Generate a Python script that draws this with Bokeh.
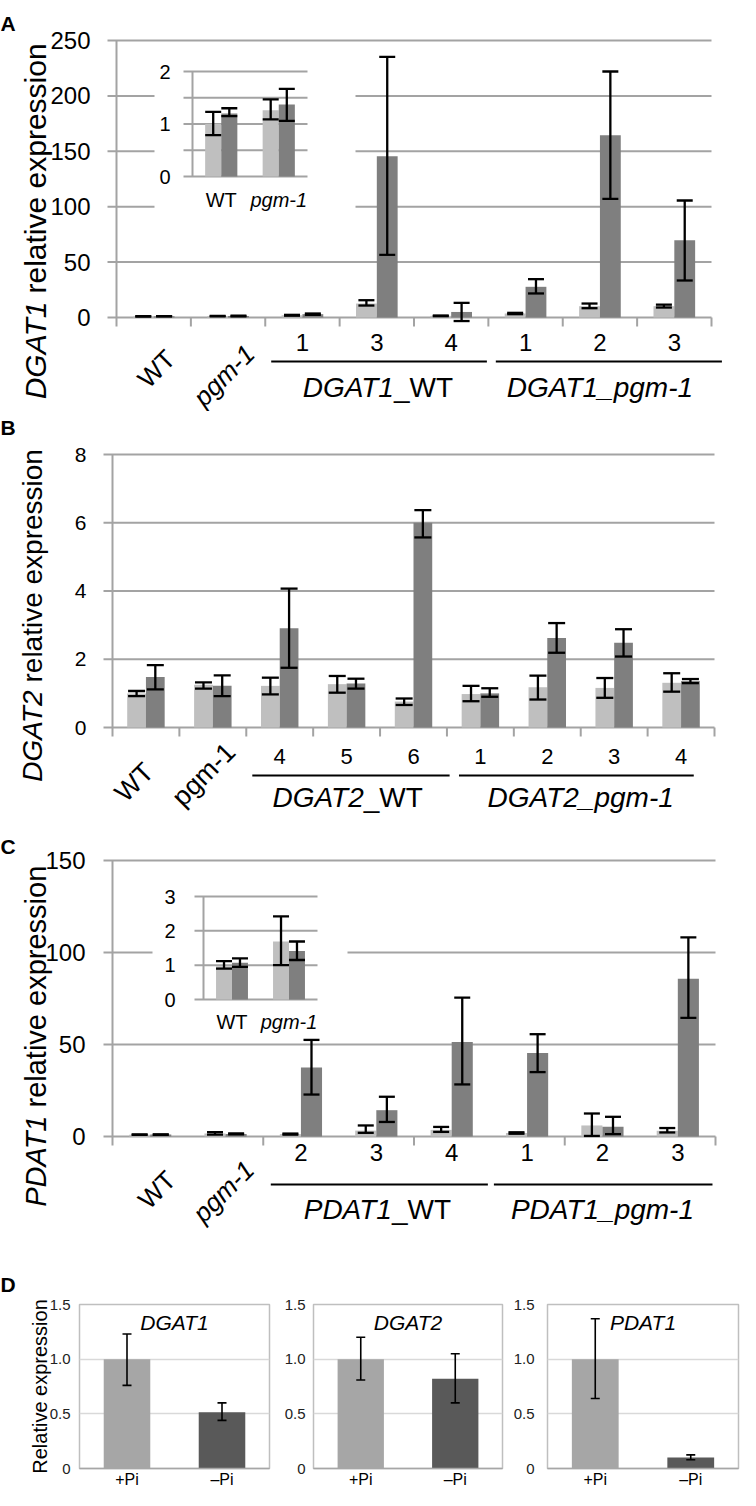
from bokeh.plotting import figure
from bokeh.models import Range1d, FixedTicker, Label, BoxAnnotation
from bokeh.layouts import column, row
from bokeh.embed import file_html
from bokeh.resources import INLINE
from bokeh.core.properties import value

FONT = "Liberation Sans"
LIGHT = "#bfbfbf"
DARK = "#7f7f7f"
GRID = "#a3a3a3"
D_PLUS = "#a6a6a6"
D_MINUS = "#595959"

# ---------------- data ----------------
# Panel A (DGAT1)
a_cats = ["WT", "pgm-1", "1", "3", "4", "1", "2", "3"]
a_light = [1.0, 1.26, 2.0, 12.6, 1.5, 3.6, 10.2, 10.2]
a_light_lo = [0.79, 1.09, 1.6, 10.8, 1.2, 3.0, 8.4, 9.0]
a_light_hi = [1.23, 1.47, 2.4, 15.6, 1.8, 4.2, 12.6, 11.6]
a_dark = [1.2, 1.37, 3.0, 145.6, 5.0, 27.7, 164.5, 69.8]
a_dark_lo = [1.15, 1.06, 2.4, 56.6, -3.2, 21.7, 107.0, 33.4]
a_dark_hi = [1.3, 1.67, 3.6, 235.3, 13.2, 34.6, 222.0, 105.6]
a_yticks = [0, 50, 100, 150, 200, 250]
a_groups = [("DGAT1", "_WT"), ("DGAT1_pgm-1", "")]
a_inset_grid = [0, 0.5, 1, 1.5, 2]
a_inset_ticks = [0, 1, 2]

# Panel B (DGAT2)
b_cats = ["WT", "pgm-1", "4", "5", "6", "1", "2", "3", "4"]
b_light = [1.0, 1.25, 1.22, 1.27, 0.76, 0.98, 1.18, 1.16, 1.31]
b_light_lo = [0.92, 1.14, 0.97, 1.02, 0.66, 0.77, 0.82, 0.87, 1.05]
b_light_hi = [1.07, 1.32, 1.46, 1.51, 0.85, 1.22, 1.52, 1.45, 1.59]
b_dark = [1.48, 1.22, 2.91, 1.29, 6.0, 1.0, 2.62, 2.48, 1.36]
b_dark_lo = [1.12, 0.92, 1.75, 1.14, 5.57, 0.9, 2.19, 2.08, 1.30]
b_dark_hi = [1.83, 1.53, 4.07, 1.43, 6.37, 1.15, 3.06, 2.88, 1.42]
b_yticks = [0, 2, 4, 6, 8]
b_groups = [("DGAT2", "_WT"), ("DGAT2_pgm-1", "")]

# Panel C (PDAT1)
c_cats = ["WT", "pgm-1", "2", "3", "4", "1", "2", "3"]
c_light = [0.97, 1.69, 1.3, 3.2, 3.6, 1.9, 6.0, 3.1]
c_light_lo = [0.9, 1.0, 1.0, 2.0, 2.5, 1.5, 0.3, 2.2]
c_light_hi = [1.12, 2.42, 1.6, 6.0, 5.2, 2.3, 12.5, 4.6]
c_dark = [1.07, 1.41, 37.5, 14.3, 51.4, 45.4, 5.3, 85.8]
c_dark_lo = [0.95, 1.15, 22.8, 7.9, 28.3, 35.0, 1.3, 64.5]
c_dark_hi = [1.2, 1.69, 52.5, 21.6, 75.5, 55.6, 10.7, 108.2]
c_yticks = [0, 50, 100, 150]
c_groups = [("PDAT1", "_WT"), ("PDAT1_pgm-1", "")]
c_inset_grid = [0, 1, 2, 3]
c_inset_ticks = [0, 1, 2, 3]

# Panel D (phosphate starvation)
d_genes = ["DGAT1", "DGAT2", "PDAT1"]
d_conditions = ["+Pi", "\u2013Pi"]
d_plus = [1.0, 1.0, 1.0]
d_plus_lo = [0.76, 0.81, 0.64]
d_plus_hi = [1.23, 1.20, 1.37]
d_minus = [0.515, 0.82, 0.10]
d_minus_lo = [0.44, 0.60, 0.08]
d_minus_hi = [0.60, 1.05, 0.125]
d_yticks = [0, 0.5, 1.0, 1.5]
d_ytick_labels = ["0", "0.5", "1.0", "1.5"]

# approximate Arial advance widths (em) for centring split labels
AW = {'D': .722, 'G': .778, 'A': .667, 'T': .611, 'P': .667, '1': .556,
      '2': .556, '_': .556, 'W': .944, 'p': .556, 'g': .556, 'm': .833, '-': .333}


def tw(s, f):
    return sum(AW.get(ch, .556) for ch in s) * f


def add_label(p, x, y, text, size, xu="screen", style="normal", align="left",
              baseline="alphabetic", angle=0, x_offset=0, color="black"):
    p.add_layout(Label(x=x, y=y, x_units=xu, y_units="screen", text=text,
                       text_font=FONT, text_font_size=f"{size}px",
                       text_font_style=style, text_align=align,
                       text_baseline=baseline, angle=angle, angle_units="deg",
                       x_offset=x_offset, text_color=color))


def errbars(p, xs, lo, hi, cap, lw, **kw):
    p.segment(x0=xs, y0=lo, x1=xs, y1=hi, line_color="black", line_width=lw, **kw)
    p.scatter(x=list(xs) + list(xs), y=list(lo) + list(hi), marker="dash",
              size=cap, line_color="black", line_width=lw, **kw)


X0, X1 = 8, 748   # horizontal extent of every row (reference pixels)


def main_panel(cats, light, llo, lhi, dark, dlo, dhi, yticks, L):
    pl, pt, pr, pb = L["plot"]
    fy0, fy1 = L["fig_y"]
    n = len(cats)
    ymax = yticks[-1]
    ppx = (pr - pl) / n
    ppy = (pb - pt) / ymax
    p = figure(width=X1 - X0, height=fy1 - fy0,
               x_range=Range1d(-(pl - X0) / ppx, n + (X1 - pr) / ppx),
               y_range=Range1d(-(fy1 - pb) / ppy, ymax + (pt - fy0) / ppy),
               x_axis_location=None, y_axis_location=None, min_border=0,
               output_backend="svg", toolbar_location=None)
    p.outline_line_color = None
    p.grid.visible = False

    # value axis: gridlines with outside tick marks, axis line, tick labels
    k = len(yticks)
    p.segment(x0=[-9 / ppx] * k, x1=[n] * k, y0=yticks, y1=yticks,
              line_color=GRID, line_width=2)
    p.segment(x0=[0], x1=[0], y0=[0], y1=[ymax], line_color=GRID, line_width=2)
    p.text(x=[-(9 + L["standoff"]) / ppx] * k, y=yticks, text=[str(t) for t in yticks],
           text_align="right", text_baseline="middle", text_font=value(FONT),
           text_font_size=f"{L['tick_fs']}px", text_color="black")
    # category axis tick marks
    xt = L["xticks"]
    p.segment(x0=xt, x1=xt, y0=[0] * len(xt), y1=[-9 / ppy] * len(xt),
              line_color=GRID, line_width=2)

    w = 0.28
    xl = [i + 0.5 - w / 2 for i in range(n)]
    xd = [i + 0.5 + w / 2 for i in range(n)]
    p.vbar(x=xl, top=light, width=w, fill_color=LIGHT, line_color=None)
    p.vbar(x=xd, top=dark, width=w, fill_color=DARK, line_color=None)
    errbars(p, xl, llo, lhi, L["cap"], 2.3)
    errbars(p, xd, dlo, dhi, L["cap"], 2.3)

    # category labels
    for i, c in enumerate(cats):
        if i < 2:
            dx, ry = L["rot"][i]
            add_label(p, i + 0.5, fy1 - ry, c, L["rot_fs"], xu="data",
                      style=("italic" if (i == 1 and L["pgm_italic"]) else "normal"),
                      align="right", baseline="middle", angle=45, x_offset=dx)
        else:
            add_label(p, i + 0.5, fy1 - L["num_y"], c, L["num_fs"], xu="data",
                      align="center", baseline="middle")
    # group underlines and names
    for (it, rest), (s, e), (x0, x1) in zip(L["groups"], L["spans"], L["lines"]):
        p.add_layout(BoxAnnotation(left=x0, right=x1, left_units="data", right_units="data",
                                   top=fy1 - L["line_y"] + 1, bottom=fy1 - L["line_y"] - 1,
                                   top_units="screen", bottom_units="screen",
                                   fill_color="black", fill_alpha=1, line_color=None,
                                   level="overlay"))
        cx = (s + e) / 2
        f = L["grp_fs"]
        if rest:
            j = tw(it, f) - (tw(it, f) + tw(rest, f)) / 2
            add_label(p, cx, fy1 - L["grp_y"], it, f, xu="data", style="italic",
                      align="right", baseline="middle", x_offset=j)
            add_label(p, cx, fy1 - L["grp_y"], rest, f, xu="data",
                      align="left", baseline="middle", x_offset=j)
        else:
            add_label(p, cx, fy1 - L["grp_y"], it, f, xu="data", style="italic",
                      align="center", baseline="middle")

    # y title (italic gene name + plain text) and panel letter
    J = L["title_j"]
    add_label(p, L["title_x"] - X0, fy1 - (J + 4), L["title_it"], L["title_fs"],
              style="italic", align="right", angle=90)
    add_label(p, L["title_x"] - X0, fy1 - (J - 4), "relative expression", L["title_fs"],
              align="left", angle=90)
    add_label(p, 0, fy1 - L["letter_y"], L["letter"], 21, style="bold")
    return p


def add_inset(p, L, I, cats, light, llo, lhi, dark, dlo, dhi, grid, ticks):
    fy0, fy1 = L["fig_y"]
    ymax = ticks[-1]
    ux = 2.0 / (I["x1"] - I["x0"])
    uy = ymax / (I["y0"] - I["yt"])
    xs0 = -(I["x0"] - X0) * ux
    ys0 = -(fy1 - I["y0"]) * uy
    p.extra_x_ranges = {"ix": Range1d(xs0, xs0 + (X1 - X0) * ux)}
    p.extra_y_ranges = {"iy": Range1d(ys0, ys0 + (fy1 - fy0) * uy)}
    kw = dict(x_range_name="ix", y_range_name="iy")
    bx0, by0, bx1, by1 = I["box"]
    p.quad(left=[(bx0 - I["x0"]) * ux], right=[(bx1 - I["x0"]) * ux],
           top=[(I["y0"] - by0) * uy], bottom=[(I["y0"] - by1) * uy],
           fill_color="white", line_color=None, **kw)
    k = len(grid)
    p.segment(x0=[-9 * ux] * k, x1=[2] * k, y0=grid, y1=grid,
              line_color=GRID, line_width=2, **kw)
    p.segment(x0=[0], x1=[0], y0=[0], y1=[ymax], line_color=GRID, line_width=2, **kw)
    p.text(x=[-I["lab_gap"] * ux] * len(ticks), y=ticks, text=[str(t) for t in ticks],
           text_align="right", text_baseline="middle", text_font=value(FONT),
           text_font_size=f"{I['fs']}px", text_color="black", **kw)
    w = 0.28
    xl = [i + 0.5 - w / 2 for i in range(2)]
    xd = [i + 0.5 + w / 2 for i in range(2)]
    p.vbar(x=xl, top=light[:2], width=w, fill_color=LIGHT, line_color=None, **kw)
    p.vbar(x=xd, top=dark[:2], width=w, fill_color=DARK, line_color=None, **kw)
    errbars(p, xl, llo[:2], lhi[:2], 16, 2.3, **kw)
    errbars(p, xd, dlo[:2], dhi[:2], 16, 2.3, **kw)
    ly = -(I["lab_y"] - I["y0"]) * uy
    p.text(x=[0.5], y=[ly], text=[cats[0]], text_align="center", text_baseline="middle",
           text_font=value(FONT), text_font_size=f"{I['fs']}px", text_color="black", **kw)
    p.text(x=[1.5], y=[ly], text=[cats[1]], text_align="center", text_baseline="middle",
           text_font=value(FONT), text_font_size=f"{I['fs']}px", text_font_style="italic",
           text_color="black", **kw)


LA = dict(fig_y=(1, 412), plot=(124, 41, 719, 318), tick_fs=24, standoff=17,
          xticks=list(range(9)), cap=16, rot=[(17, 355), (22, 350)], rot_fs=26,
          pgm_italic=True, num_y=343, num_fs=24, groups=a_groups, spans=[(2, 5), (5, 8)],
          lines=[(2.08, 4.98), (5.1, 8.14)], line_y=362, grp_y=388, grp_fs=28,
          title_j=298, title_x=43, title_fs=30, title_it="DGAT1", letter="A", letter_y=24)
LB = dict(fig_y=(412, 815), plot=(120, 455, 722, 728), tick_fs=21, standoff=17,
          xticks=list(range(10)), cap=17, rot=[(3, 768), (18, 748)], rot_fs=27,
          pgm_italic=False, num_y=757, num_fs=22, groups=b_groups, spans=[(2, 5), (5, 9)],
          lines=[(2.09, 5.04), (5.18, 8.69)], line_y=776, grp_y=798, grp_fs=28,
          title_j=687, title_x=40, title_fs=28, title_it="DGAT2", letter="B", letter_y=428)
LC = dict(fig_y=(815, 1298), plot=(120, 861, 723, 1137), tick_fs=24, standoff=18,
          xticks=[0, 2, 4, 6, 8], cap=16, rot=[(21, 1176), (24, 1166)], rot_fs=26,
          pgm_italic=True, num_y=1153, num_fs=24, groups=c_groups, spans=[(2, 5), (5, 8)],
          lines=[(2.1, 4.98), (5.06, 7.96)], line_y=1185, grp_y=1210, grp_fs=28,
          title_j=1112, title_x=43, title_fs=29, title_it="PDAT1", letter="C", letter_y=847)

pA = main_panel(a_cats, a_light, a_light_lo, a_light_hi, a_dark, a_dark_lo, a_dark_hi,
                a_yticks, LA)
add_inset(pA, LA, dict(x0=200, x1=315, y0=177, yt=72, box=(162, 50, 363, 225), lab_gap=22,
                       lab_y=200, fs=20),
          a_cats, a_light, a_light_lo, a_light_hi, a_dark, a_dark_lo, a_dark_hi,
          a_inset_grid, a_inset_ticks)
pB = main_panel(b_cats, b_light, b_light_lo, b_light_hi, b_dark, b_dark_lo, b_dark_hi,
                b_yticks, LB)
pC = main_panel(c_cats, c_light, c_light_lo, c_light_hi, c_dark, c_dark_lo, c_dark_hi,
                c_yticks, LC)
add_inset(pC, LC, dict(x0=211, x1=325, y0=1000, yt=897, box=(160, 878, 355, 1035), lab_gap=28,
                       lab_y=1022, fs=20),
          c_cats, c_light, c_light_lo, c_light_hi, c_dark, c_dark_lo, c_dark_hi,
          c_inset_grid, c_inset_ticks)
# the "D" panel letter sits in the space below panel C
add_label(pC, 0, 1298 - 1285, "D", 21, style="bold")

D_TOP, D_BOT = 1298, 1491


def d_panel(k, width, bl, br, standoff):
    p = figure(width=width, height=D_BOT - D_TOP, x_range=Range1d(0, 2), y_range=Range1d(0, 1.5),
               output_backend="svg", toolbar_location=None,
               min_border_left=bl, min_border_right=br,
               min_border_top=1305 - D_TOP, min_border_bottom=D_BOT - 1470)
    p.outline_line_color = "#bfbfbf"
    p.outline_line_width = 1.5
    p.xgrid.visible = False
    p.ygrid.ticker = FixedTicker(ticks=d_yticks[1:3])
    p.ygrid.grid_line_color = "#d9d9d9"
    p.ygrid.grid_line_width = 1.5
    ya = p.yaxis[0]
    ya.ticker = FixedTicker(ticks=d_yticks)
    ya.major_label_overrides = dict(zip(d_yticks, d_ytick_labels))
    ya.axis_line_color = None
    ya.major_tick_line_color = None
    ya.minor_tick_line_color = None
    ya.major_tick_out = 0
    ya.major_label_standoff = standoff
    ya.major_label_text_font = FONT
    ya.major_label_text_font_size = "15px"
    ya.major_label_text_color = "#222222"
    xa = p.xaxis[0]
    xa.ticker = FixedTicker(ticks=[0.5, 1.5])
    xa.major_label_overrides = {0.5: d_conditions[0], 1.5: d_conditions[1]}
    xa.axis_line_color = "#a6a6a6"
    xa.axis_line_width = 1.5
    xa.major_tick_line_color = None
    xa.minor_tick_line_color = None
    xa.major_tick_out = 0
    xa.major_label_standoff = 2
    xa.major_label_text_font = FONT
    xa.major_label_text_font_size = "16px"
    xa.major_label_text_color = "black"
    xs = [0.5, 1.5]
    p.vbar(x=xs, top=[d_plus[k], d_minus[k]], width=0.49,
           fill_color=[D_PLUS, D_MINUS], line_color=None)
    errbars(p, xs, [d_plus_lo[k], d_minus_lo[k]], [d_plus_hi[k], d_minus_hi[k]], 9, 1.6)
    add_label(p, 1.0, 1470 - 1324, d_genes[k], 21, xu="data", style="italic",
              align="center", baseline="middle")
    return p


d1 = d_panel(0, 274, 79, 5, 9)
d1.yaxis[0].axis_label = "Relative expression"
d1.yaxis[0].axis_label_text_font = FONT
d1.yaxis[0].axis_label_text_font_size = "20px"
d1.yaxis[0].axis_label_text_font_style = "normal"
d1.yaxis[0].axis_label_text_color = "black"
d1.yaxis[0].axis_label_standoff = -4
d2 = d_panel(1, 235, 39, 7, 8)
d3 = d_panel(2, 231, 38, 2, 13)

layout = column(pA, pB, pC, row(d1, d2, d3))
open("out.html", "w").write(file_html(layout, INLINE))
